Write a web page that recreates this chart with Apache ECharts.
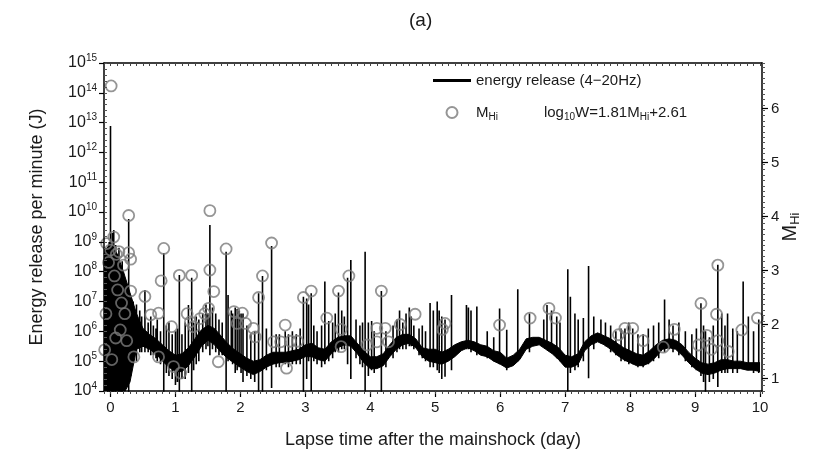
<!DOCTYPE html>
<html>
<head>
<meta charset="utf-8">
<script src="https://cdn.jsdelivr.net/npm/echarts@6/dist/echarts.min.js"></script>
<style>
  html, body { margin: 0; padding: 0; background: #fff; }
  #chart { width: 830px; height: 459px; }
</style>
</head>
<body>
<div id="chart"></div>
<script>
// background level of the energy release, sampled every 0.1 day (log10 J)
const bandT = [-0.1, 0, 0.1, 0.2, 0.3, 0.4, 0.5, 0.6, 0.7, 0.8, 0.9,
  1.0, 1.1, 1.2, 1.3, 1.4, 1.5, 1.6, 1.7, 1.8, 1.9,
  2.0, 2.1, 2.2, 2.3, 2.4, 2.5, 2.6, 2.7, 2.8, 2.9,
  3.0, 3.1, 3.2, 3.3, 3.4, 3.5, 3.6, 3.7, 3.8, 3.9,
  4.0, 4.1, 4.2, 4.3, 4.4, 4.5, 4.6, 4.7, 4.8, 4.9,
  5.0, 5.1, 5.2, 5.3, 5.4, 5.5, 5.6, 5.7, 5.8, 5.9,
  6.0, 6.1, 6.2, 6.3, 6.4, 6.5, 6.6, 6.7, 6.8, 6.9,
  7.0, 7.1, 7.2, 7.3, 7.4, 7.5, 7.6, 7.7, 7.8, 7.9,
  8.0, 8.1, 8.2, 8.3, 8.4, 8.5, 8.6, 8.7, 8.8, 8.9,
  9.0, 9.1, 9.2, 9.3, 9.4, 9.5, 9.6, 9.7, 9.8, 9.9, 10.0];
const bandLo = [3.9, 3.9, 3.9, 3.9, 4.3, 5.4, 5.5, 5.4, 5.25, 5.0, 4.8,
  4.65, 4.65, 4.85, 5.15, 5.5, 5.7, 5.55, 5.3, 5.1, 4.95,
  4.8, 4.65, 4.55, 4.65, 4.8, 4.9, 4.95, 4.95, 5.0, 5.05,
  5.15, 5.15, 5.05, 5.0, 5.25, 5.45, 5.55, 5.5, 5.25, 4.95,
  4.75, 4.75, 4.85, 5.15, 5.4, 5.55, 5.6, 5.45, 5.15, 5.0,
  4.95, 4.9, 5.0, 5.15, 5.35, 5.45, 5.35, 5.2, 5.15, 5.0,
  4.9, 4.77, 4.85, 5.05, 5.4, 5.5, 5.55, 5.4, 5.25, 5.05,
  4.8, 4.8, 4.9, 5.35, 5.55, 5.65, 5.55, 5.4, 5.2, 5.05,
  4.95, 4.85, 4.85, 4.95, 5.15, 5.4, 5.45, 5.4, 5.2, 4.95,
  4.75, 4.6, 4.55, 4.6, 4.7, 4.75, 4.75, 4.75, 4.7, 4.7, 4.65];
const bandHi = [8.6, 9.0, 8.6, 8.0, 7.3, 6.6, 6.1, 5.9, 5.75, 5.55, 5.35,
  5.2, 5.25, 5.45, 5.75, 6.05, 6.2, 6.1, 5.85, 5.6, 5.4,
  5.25, 5.1, 5.0, 5.05, 5.2, 5.3, 5.3, 5.3, 5.35, 5.4,
  5.55, 5.6, 5.45, 5.4, 5.65, 5.8, 5.85, 5.85, 5.6, 5.35,
  5.15, 5.15, 5.25, 5.55, 5.8, 5.9, 5.9, 5.75, 5.45, 5.4,
  5.4, 5.3, 5.4, 5.55, 5.65, 5.7, 5.65, 5.55, 5.5, 5.35,
  5.3, 5.1, 5.2, 5.4, 5.75, 5.8, 5.8, 5.7, 5.6, 5.45,
  5.2, 5.15, 5.25, 5.65, 5.85, 5.95, 5.85, 5.75, 5.6, 5.45,
  5.35, 5.25, 5.2, 5.35, 5.55, 5.7, 5.75, 5.7, 5.55, 5.3,
  5.1, 4.95, 4.9, 4.95, 5.05, 5.05, 5.0, 5.0, 4.95, 4.95, 4.95];

// individual bursts: time (day), lowest and highest minute value (log10 J)
const spikeT = [-0.08, -0.05, -0.02, 0.00, 0.03, 0.05, 0.08, 0.10, 0.13, 0.16, 0.18, 0.21, 0.24, 0.28, 0.31,
  0.35, 0.40, 0.45, 0.48, 0.53, 0.58, 0.62, 0.66, 0.70, 0.72, 0.77, 0.82, 0.86, 0.90, 0.95,
  1.00, 1.03, 1.06, 1.10, 1.15, 1.20, 1.25, 1.28, 1.32, 1.36, 1.42, 1.47, 1.50, 1.53, 1.57, 1.62, 1.67,
  1.72, 1.78, 1.81, 1.86, 1.88, 1.92, 1.95, 1.98, 2.01, 2.04, 2.10, 2.16, 2.22, 2.28, 2.34, 2.40,
  2.48, 2.55, 2.60, 2.69, 2.74, 2.80, 2.86, 2.92, 2.97, 3.02, 3.05, 3.09, 3.13, 3.18, 3.25, 3.30,
  3.36, 3.42, 3.46, 3.51, 3.56, 3.60, 3.65, 3.70, 3.78, 3.84, 3.88, 3.92, 3.97, 4.02, 4.06, 4.17,
  4.24, 4.35, 4.41, 4.45, 4.50, 4.55, 4.60, 4.63, 4.67, 4.75, 4.80, 4.85, 4.92,
  4.97, 5.03, 5.06, 5.10, 5.15, 5.25, 5.48, 5.51, 5.55, 5.64, 5.80, 5.90, 5.99, 6.10, 6.27, 6.45,
  6.67, 6.72, 6.79, 6.87, 6.92, 7.04, 7.08, 7.15, 7.20, 7.28, 7.36, 7.44,
  7.55, 7.62, 7.70, 7.78, 7.86, 7.92, 7.98, 8.04, 8.12, 8.20, 8.28, 8.36, 8.44,
  8.53, 8.60, 8.66, 8.75, 8.85, 8.95, 9.02, 9.09, 9.13, 9.16, 9.22, 9.28, 9.35, 9.41, 9.46,
  9.50, 9.58, 9.65, 9.74, 9.82, 9.90, 9.98];
const spikeLo = [3.9, 3.9, 3.9, 3.9, 3.9, 3.9, 3.9, 4.0, 3.9, 3.9, 3.9, 4.1, 4.3, 3.9, 4.5,
  5.0, 5.0, 5.3, 5.3, 5.3, 5.3, 5.2, 5.2, 5.1, 5.0, 4.9, 3.9, 4.6, 4.5, 4.4,
  4.2, 4.3, 3.9, 4.4, 4.4, 4.6, 3.9, 4.7, 4.9, 5.0, 5.3, 5.4, 5.5, 5.2, 5.4, 5.3, 5.2,
  5.2, 3.9, 5.0, 5.0, 4.9, 4.6, 4.7, 4.8, 4.6, 4.3, 4.5, 4.4, 4.3, 3.9, 3.9, 4.7,
  4.1, 4.8, 4.8, 4.9, 4.8, 4.9, 4.9, 4.9, 3.9, 4.4, 5.0, 4.0, 5.0, 4.9, 4.8, 4.9,
  5.0, 5.1, 5.3, 5.3, 5.4, 5.4, 4.9, 4.4, 5.1, 4.9, 4.8, 3.9, 4.5, 4.7, 4.6, 3.9,
  4.8, 5.1, 5.3, 5.4, 5.4, 5.4, 5.5, 5.5, 5.4, 5.2, 5.1, 5.0, 4.8,
  4.8, 4.7, 4.6, 4.4, 4.48, 4.7, 5.4, 5.4, 5.3, 5.2, 5.1, 5.0, 4.9, 4.7, 5.0, 5.3,
  5.5, 5.4, 5.3, 5.1, 5.0, 3.98, 4.6, 4.7, 4.8, 5.0, 4.43, 5.4,
  5.6, 5.5, 5.3, 5.2, 5.0, 5.0, 4.9, 4.9, 4.8, 4.8, 4.9, 5.0, 5.1,
  5.3, 5.4, 5.3, 5.2, 5.0, 4.8, 4.7, 4.5, 4.3, 3.9, 4.3, 4.4, 4.13, 4.6, 4.6,
  4.6, 4.6, 4.6, 4.8, 4.7, 4.6, 4.6];
const spikeHi = [8.8, 8.6, 9.0, 12.89, 9.3, 9.4, 8.9, 8.6, 8.8, 8.2, 8.35, 7.8, 7.5, 9.77, 7.2,
  7.0, 6.9, 6.7, 6.5, 7.39, 6.3, 6.5, 6.2, 6.1, 6.4, 6.0, 8.63, 6.2, 6.3, 5.9,
  6.0, 6.1, 7.89, 5.9, 6.3, 6.88, 7.8, 6.3, 6.5, 6.4, 6.6, 6.9, 6.6, 9.57, 6.8, 6.6, 6.4,
  6.3, 8.67, 7.22, 6.7, 6.6, 6.8, 6.75, 6.7, 6.6, 6.6, 6.2, 5.9, 6.0, 7.28, 7.86, 6.1,
  8.86, 5.9, 5.9, 6.0, 5.9, 6.0, 5.9, 6.1, 7.16, 7.1, 6.9, 7.28, 6.2, 6.0, 6.2, 7.67,
  6.35, 6.3, 6.6, 7.3, 6.7, 6.5, 7.8, 8.39, 6.4, 6.2, 6.3, 8.67, 6.3, 6.35, 6.0, 7.35,
  6.0, 6.2, 6.4, 6.7, 6.3, 6.6, 6.8, 6.5, 6.2, 6.1, 6.2, 6.0, 6.95,
  6.7, 7.0, 6.7, 6.5, 6.4, 7.22, 6.88, 6.8, 6.7, 6.83, 6.0, 5.8, 6.77, 6.05, 7.41, 6.6,
  6.4, 6.88, 6.7, 6.5, 6.3, 8.08, 7.16, 6.6, 6.4, 6.45, 8.19, 6.5,
  6.4, 6.3, 6.2, 6.0, 6.1, 6.1, 6.3, 6.1, 5.9, 5.9, 6.1, 6.2, 6.3,
  7.07, 6.4, 6.2, 6.3, 6.0, 5.9, 6.1, 6.94, 6.2, 6.0, 5.8, 6.2, 8.23, 6.6, 6.2,
  6.6, 6.1, 6.0, 7.67, 6.5, 6.0, 6.4];

// M_Hi of individual events
const magT = [-0.09, -0.07, -0.06, -0.03, 0.01, 0.00, 0.05, 0.06, 0.09, 0.11, 0.13, 0.15, 0.17, 0.20, 0.22,
  0.28, 0.28, 0.31, 0.31, 0.36, 0.02, 0.08, 0.25,
  0.53, 0.62, 0.74, 0.74, 0.78, 0.82, 0.94, 0.97, 1.06, 1.08, 1.18, 1.23, 1.25, 1.28, 1.38, 1.45,
  1.51, 1.53, 1.53, 1.59, 1.66,
  1.78, 1.90, 1.95, 2.03, 2.08, 2.20, 2.23, 2.28, 2.34, 2.48, 2.51, 2.62, 2.69, 2.71, 2.77, 2.88,
  2.97, 3.09, 3.33,
  3.51, 3.55, 3.55, 3.67, 3.95, 4.10, 4.10, 4.17, 4.23, 4.28, 4.46, 4.69,
  5.15, 5.11, 5.99, 6.46, 6.75, 6.85,
  7.82, 7.92, 8.04, 8.20,
  8.51, 8.68, 9.05, 9.09, 9.18, 9.25, 9.35, 9.33, 9.35, 9.51, 9.72, 9.96];
const magM = [1.53, 2.2, 3.5, 3.15, 6.42, 3.38, 3.62, 2.9, 3.3, 2.64, 3.35, 1.9, 2.4, 3.1, 2.2,
  4.02, 3.33, 3.21, 2.62, 1.40, 1.35, 1.75, 1.7,
  2.52, 2.18, 2.21, 1.40, 2.81, 3.41, 1.96, 1.22, 2.91, 1.10, 2.2, 2.05, 2.91, 1.96, 2.11, 2.2,
  2.30, 4.11, 3.01, 2.61, 1.31,
  3.40, 2.24, 2.02, 2.21, 2.02, 1.93, 1.77, 2.50, 2.90, 3.51, 1.68, 1.68, 1.99, 1.19, 1.69, 1.69,
  2.50, 2.62, 2.12,
  2.62, 1.91, 1.59, 2.90, 1.62, 1.93, 1.68, 2.62, 1.93, 1.68, 2.00, 2.19,
  2.02, 1.91, 1.99, 2.12, 2.30, 2.12,
  1.81, 1.93, 1.93, 1.70,
  1.58, 1.91, 1.62, 2.39, 1.8, 1.54, 3.10, 2.19, 1.70, 1.50, 1.90, 2.12];

const dayTicks = [0, 1, 2, 3, 4, 5, 6, 7, 8, 9, 10];
const magTicks = [1, 2, 3, 4, 5, 6];
const energyExp = [4, 5, 6, 7, 8, 9, 10, 11, 12, 13, 14, 15];

const lineName = 'energy release (4\u221220Hz)';
const font = 'Liberation Sans, Arial, sans-serif';
const ink = '#1a1a1a';

// right axis follows log10W = 1.81 M + 2.61 over the 1e4..1e15 range
const mMin = (4 - 2.61) / 1.81;
const mMax = (15 - 2.61) / 1.81;

const energyTicks = energyExp.map(e => Math.pow(10, e));
const upper = bandT.map((t, i) => [t, Math.pow(10, bandHi[i])]);
const lower = bandT.map((t, i) => [t, Math.pow(10, bandLo[i])]);
const spikes = [];
spikeT.forEach((t, i) => {
  spikes.push([t, Math.pow(10, spikeLo[i])], [t, Math.pow(10, spikeHi[i])], [t, '-']);
});
const mags = magT.map((t, i) => [t, magM[i]]);

const chart = echarts.init(document.getElementById('chart'));

const sub = { fontSize: 10, verticalAlign: 'bottom', color: ink, fontFamily: font };
const sup = { fontSize: 10, verticalAlign: 'top', color: ink, fontFamily: font };
const frame = { show: true, onZero: false, lineStyle: { color: '#000', width: 1.5 } };
const noLine = { show: false, onZero: false };

chart.setOption({
  animation: false,
  title: {
    text: '(a)', left: 404, top: 6,
    textStyle: { fontSize: 19, fontWeight: 'normal', color: ink, fontFamily: font }
  },
  legend: {
    left: 428, top: 68, orient: 'vertical', itemGap: 17,
    itemWidth: 38, itemHeight: 11, selectedMode: false,
    textStyle: {
      fontSize: 15, color: ink, fontFamily: font,
      rich: {
        a: { fontSize: 15, color: ink, fontFamily: font, lineHeight: 20 },
        s: sub,
        g: { width: 46 }
      }
    },
    data: [
      { name: lineName, icon: 'path://M0 0H40V3H0Z', itemStyle: { color: '#000' } },
      { name: 'M_Hi', icon: 'circle' }
    ],
    formatter: function (n) {
      if (n === 'M_Hi') return '{a|M}{s|Hi}{g|}{a|log}{s|10}{a|W=1.81M}{s|Hi}{a|+2.61}';
      return '{a|' + n + '}';
    }
  },
  grid: { left: 104, right: 68, top: 63, bottom: 68 },
  xAxis: [
    {
      type: 'value', position: 'bottom', min: -0.1, max: 10.03, z: 10,
      name: 'Lapse time after the mainshock (day)', nameLocation: 'middle', nameGap: 40,
      nameTextStyle: { fontSize: 18, color: ink, fontFamily: font },
      axisLine: frame,
      axisTick: { show: true, customValues: dayTicks, length: 6, lineStyle: { color: '#000', width: 1.2 } },
      axisLabel: { customValues: dayTicks, fontSize: 15, color: ink, fontFamily: font, margin: 9 },
      splitLine: { show: false }
    },
    {
      type: 'value', position: 'bottom', min: -0.1, max: 10.03, interval: 0.1, z: 10,
      axisLine: noLine,
      axisTick: { show: true, interval: 0, length: 3, lineStyle: { color: '#444', width: 1 } },
      axisLabel: { show: false },
      splitLine: { show: false }
    },
    {
      type: 'value', position: 'top', min: -0.1, max: 10.03, interval: 0.1, z: 10,
      axisLine: frame,
      axisTick: { show: true, interval: 0, inside: true, length: 3, lineStyle: { color: '#444', width: 1 } },
      axisLabel: { show: false },
      splitLine: { show: false }
    }
  ],
  yAxis: [
    {
      type: 'log', logBase: 10, position: 'left', min: 1e4, max: 1.0002e15, z: 10,
      name: 'Energy release per minute (J)', nameLocation: 'middle', nameGap: 58, nameRotate: 90,
      nameTextStyle: { fontSize: 18, color: ink, fontFamily: font },
      axisLine: frame,
      axisTick: { show: true, customValues: energyTicks, length: 5, lineStyle: { color: '#000', width: 1.2 } },
      axisLabel: {
        customValues: energyTicks, showMaxLabel: true, showMinLabel: true,
        margin: 7, fontSize: 16, color: ink, fontFamily: font,
        formatter: v => '{b|10}{p|' + Math.round(Math.log10(v)) + '}',
        rich: { b: { fontSize: 16, color: ink, fontFamily: font, lineHeight: 20 }, p: sup }
      },
      splitLine: { show: false }
    },
    {
      type: 'value', position: 'right', min: mMin, max: mMax, z: 10,
      name: '{a|M}{s|Hi}', nameLocation: 'middle', nameGap: 16, nameRotate: 90, nameMoveOverlap: false,
      nameTextStyle: {
        fontSize: 20, color: ink, fontFamily: font,
        rich: { a: { fontSize: 20, color: ink, fontFamily: font, lineHeight: 24 }, s: { fontSize: 13, verticalAlign: 'bottom', color: ink, fontFamily: font } }
      },
      axisLine: frame,
      axisTick: { show: true, customValues: magTicks, length: 6, lineStyle: { color: '#000', width: 1.2 } },
      axisLabel: { customValues: magTicks, fontSize: 15, color: ink, fontFamily: font, margin: 9 },
      splitLine: { show: false }
    },
    {
      type: 'value', position: 'right', min: mMin, max: mMax, interval: 0.1, z: 10,
      axisLine: noLine,
      axisTick: { show: true, interval: 0, length: 3, lineStyle: { color: '#555', width: 1 } },
      axisLabel: { show: false },
      splitLine: { show: false }
    },
    {
      // evenly spaced minor marks along the inside of the left frame (log10 J)
      type: 'value', position: 'left', min: 4, max: 15, interval: 0.2, z: 10,
      axisLine: noLine,
      axisTick: { show: true, interval: 0, inside: true, length: 3, lineStyle: { color: '#555', width: 1 } },
      axisLabel: { show: false },
      splitLine: { show: false }
    }
  ],
  series: [
    {
      type: 'line', data: upper, symbol: 'none', z: 2, silent: true,
      lineStyle: { color: '#000', width: 1 },
      areaStyle: { color: '#000', opacity: 1, origin: 'start' }
    },
    {
      type: 'line', data: lower, symbol: 'none', z: 3, silent: true,
      lineStyle: { color: '#000', width: 1 },
      areaStyle: { color: '#fff', opacity: 1, origin: 'start' }
    },
    {
      name: lineName, type: 'line', data: spikes, symbol: 'none', z: 4,
      connectNulls: false,
      lineStyle: { color: '#000', width: 1.6 },
      itemStyle: { color: '#000' }
    },
    {
      name: 'M_Hi', type: 'scatter', yAxisIndex: 1, data: mags, z: 5,
      symbol: 'circle', symbolSize: 11,
      itemStyle: { color: 'rgba(255,255,255,0)', borderColor: '#7a7a7a', borderWidth: 1.8 }
    }
  ]
});
</script>
</body>
</html>
